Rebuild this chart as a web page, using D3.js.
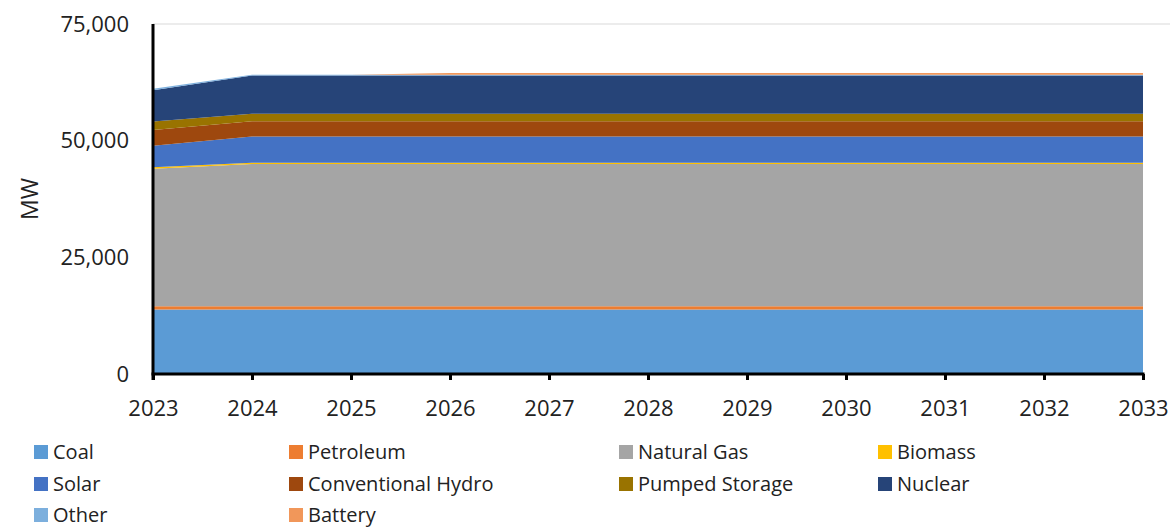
<!DOCTYPE html>
<html><head><meta charset="utf-8">
<script src="https://cdn.jsdelivr.net/npm/d3@7"></script>
<style>body{margin:0;background:#fff}svg{display:block;font-family:"Open Sans",sans-serif}</style>
</head><body><svg id="c" width="1172" height="527"></svg>
<script>
const years = [2023,2024,2025,2026,2027,2028,2029,2030,2031,2032,2033];
const coal      = [13800,13800,13800,13800,13800,13800,13800,13800,13800,13800,13800];
const petroleum = [700,700,700,700,700,700,700,700,700,700,700];
const naturalGas= [29500,30500,30500,30500,30500,30500,30500,30500,30500,30500,30500];
const biomass   = [300,250,250,250,250,250,250,250,250,250,250];
const solar     = [4600,5650,5650,5650,5650,5650,5650,5650,5650,5650,5650];
const hydro     = [3400,3250,3250,3250,3250,3250,3250,3250,3250,3250,3250];
const pumped    = [1800,1600,1600,1600,1600,1600,1600,1600,1600,1600,1600];
const nuclear   = [6700,8200,8200,8200,8200,8200,8200,8200,8200,8200,8200];
const other     = [300,200,200,200,200,200,200,200,200,200,200];
const battery   = [0,0,0,350,350,350,350,350,350,350,350];
const seriesNames = ["Coal","Petroleum","Natural Gas","Biomass","Solar","Conventional Hydro","Pumped Storage","Nuclear","Other","Battery"];
const seriesValues = [coal,petroleum,naturalGas,biomass,solar,hydro,pumped,nuclear,other,battery];
const colors = ["#5B9BD5","#ED7D31","#A5A5A5","#FFC000","#4472C4","#9E480E","#997300","#264478","#7CAFDD","#F1975A"];
const yTicks = [0,25000,50000,75000];

const svg = d3.select("#c");
const x = d3.scaleLinear().domain([2023,2033]).range([153,1143]);
const y = d3.scaleLinear().domain([0,75000]).range([374,24]);

const rows = years.map((yr,i)=>{const o={year:yr}; seriesNames.forEach((n,k)=>o[n]=seriesValues[k][i]); return o;});
const stack = d3.stack().keys(seriesNames)(rows);
const area = d3.area().x(d=>x(d.data.year)).y0(d=>y(d[0])).y1(d=>y(d[1]));

// top gridline
svg.append("line").attr("x1",153).attr("x2",1170).attr("y1",y(75000)).attr("y2",y(75000))
  .attr("stroke","#d9d9d9").attr("stroke-width",1);

svg.append("g").selectAll("path").data(stack).join("path")
  .attr("d",area).attr("fill",(d,i)=>colors[i]);

// axes
const fmt = d3.format(",");
const yAxis = svg.append("g").attr("transform","translate(153,0)")
  .call(d3.axisLeft(y).tickValues(yTicks).tickFormat(d=>fmt(d)).tickSize(0).tickPadding(24));
yAxis.select(".domain").remove();
yAxis.selectAll("text").attr("font-size",22).attr("fill","#222").attr("font-family","Open Sans");
svg.append("line").attr("x1",153).attr("x2",153).attr("y1",y(75000)).attr("y2",380)
  .attr("stroke","#000").attr("stroke-width",3);

const xAxis = svg.append("g").attr("transform","translate(0,374)")
  .call(d3.axisBottom(x).tickValues(years).tickFormat(d=>String(d)).tickSize(6).tickPadding(20));
xAxis.select(".domain").remove();
xAxis.selectAll(".tick line").attr("stroke","#000").attr("stroke-width",3);
xAxis.selectAll("text").attr("font-size",22).attr("fill","#222").attr("font-family","Open Sans");
svg.append("line").attr("x1",151.5).attr("x2",1144.5).attr("y1",374).attr("y2",374)
  .attr("stroke","#000").attr("stroke-width",3);

svg.append("text").attr("transform","translate(38,199) rotate(-90)").attr("text-anchor","middle")
  .attr("font-size",23).attr("fill","#222").text("MW");

// legend
const colX = [34,289,619,878];
const rowY = [452,484,515];
const lg = svg.append("g");
seriesNames.forEach((n,i)=>{
  const cx = colX[i%4], cy = rowY[Math.floor(i/4)];
  lg.append("rect").attr("x",cx).attr("y",cy-7).attr("width",14).attr("height",14).attr("fill",colors[i]);
  lg.append("text").attr("x",cx+19).attr("y",cy).attr("dy","0.35em").attr("font-size",20).attr("fill","#222").text(n);
});
</script></body></html>
